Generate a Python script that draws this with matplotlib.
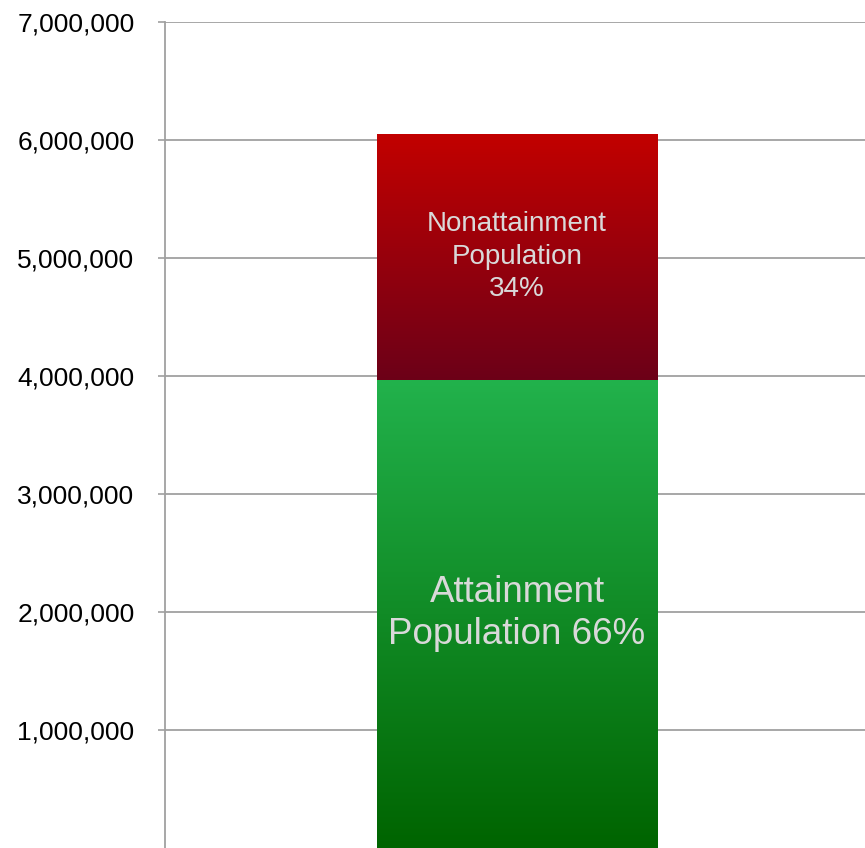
import matplotlib.pyplot as plt
import numpy as np
from matplotlib.colors import LinearSegmentedColormap

segments = ["Attainment Population", "Nonattainment Population"]
values = [3970000, 2080000]
labels = ["Attainment\nPopulation 66%", "Nonattainment\nPopulation\n34%"]
label_sizes = [26.5, 20]
label_spacing = [1.25, 1.33]
# gradient colours, bottom -> top
grads = [("#006400", "#22B24C"), ("#6C0018", "#C20000")]
yticks = [1000000, 2000000, 3000000, 4000000, 5000000, 6000000, 7000000]

plt.rcParams['font.family'] = ['Liberation Sans', 'DejaVu Sans']

fig = plt.figure(figsize=(8.65, 8.48), dpi=100)
ax = fig.add_axes([165/865, 0, 704/865, 826/848])

bottom = 0
for name, v, lab, fs, ls, (c0, c1) in zip(segments, values, labels, label_sizes,
                                          label_spacing, grads):
    bar = ax.bar(0, v, width=0.398, bottom=bottom, color="none", edgecolor="none", zorder=3)[0]
    cmap = LinearSegmentedColormap.from_list(name, [c0, c1])
    grad = np.linspace(0, 1, 256).reshape(-1, 1)
    im = ax.imshow(grad, cmap=cmap, origin="lower", aspect="auto",
                   extent=[-0.199, 0.199, bottom, bottom + v], zorder=3)
    im.set_clip_path(bar)
    ax.text(0, bottom + v / 2, lab, ha="center", va="center", fontsize=fs,
            color="#D9D9D9", linespacing=ls, zorder=4)
    bottom += v

ax.set_xlim(-0.5, 0.5)
ax.set_ylim(0, 7000000)
ax.set_yticks(yticks)
ax.set_yticklabels([f"{t:,}" for t in yticks])
ax.set_xticks([])
ax.tick_params(axis="y", labelsize=19, length=5, width=1.2, color="#A0A0A0", pad=17)
ax.grid(axis="y", color="#A0A0A0", linewidth=1.3, zorder=0)
ax.set_axisbelow(True)
for s in ["top", "right", "bottom"]:
    ax.spines[s].set_visible(False)
ax.spines["left"].set_color("#A0A0A0")
ax.spines["left"].set_linewidth(1.3)

fig.savefig("out.png", dpi=100)
